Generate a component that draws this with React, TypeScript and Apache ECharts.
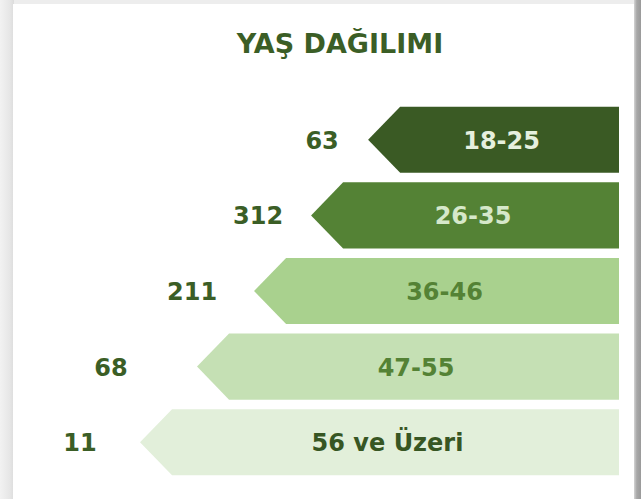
import React, { useEffect, useRef } from "react";
import * as echarts from "echarts";

const title = "YAŞ DAĞILIMI";
const categories = ["18-25", "26-35", "36-46", "47-55", "56 ve Üzeri"];
const counts = [63, 312, 211, 68, 11];
const arrowRank = [1, 2, 3, 4, 5];

const barColors = ["#3a5a24", "#548235", "#a9d18e", "#c5e0b4", "#e2efda"];
const labelColors = ["#e6f0de", "#d6e8ca", "#548235", "#548235", "#375623"];
const valueGaps = [46, 53, 62, 86, 60];
const FONT = "DejaVu Sans";

export default function App() {
  const ref = useRef<HTMLDivElement>(null);
  useEffect(() => {
    if (!ref.current) return;
    const chart = echarts.init(ref.current, null, { renderer: "svg" });
    const xMin = -3.4;
    chart.setOption({
      animation: false,
      backgroundColor: "#ffffff",
      graphic: [
        { type: "rect", left: 0, top: 0, shape: { width: 641, height: 499 }, style: { fill: "#ededed" }, z: -10 },
        {
          type: "rect", left: 0, top: 0, shape: { width: 14, height: 499 },
          style: { fill: new echarts.graphic.LinearGradient(0, 0, 1, 0, [
            { offset: 0, color: "#f2f2f2" }, { offset: 0.7, color: "#e6e6e6" }, { offset: 1, color: "#dcdcdc" }]) },
          z: -9,
        },
        {
          type: "rect", left: 634, top: 0, shape: { width: 7, height: 499 },
          style: { fill: new echarts.graphic.LinearGradient(0, 0, 1, 0, [
            { offset: 0, color: "#d4d4d4" }, { offset: 0.4, color: "#a8a8a8" }, { offset: 1, color: "#9a9a9a" }]) },
          z: -9,
        },
        { type: "rect", left: 13, top: 4, shape: { width: 621, height: 495 }, style: { fill: "#ffffff" }, z: -8 },
        {
          type: "text", x: 340, y: 43,
          style: { text: title, fill: "#3b5e26", fontSize: 27, fontWeight: "bold", fontFamily: FONT, align: "center", verticalAlign: "middle" },
          z: 5,
        },
      ],
      grid: { left: 140, right: 22, top: 102, bottom: 19 },
      xAxis: { type: "value", min: xMin, max: 5, inverse: true, show: false },
      yAxis: { type: "category", data: categories, inverse: true, show: false },
      series: [
        {
          type: "custom",
          encode: { x: 0, y: 1 },
          data: categories.map((c, i) => [arrowRank[i], i, counts[i]]),
          renderItem: (params: any, api: any) => {
            const i = params.dataIndex;
            const rank = api.value(0);
            const idx = api.value(1);
            const [xTip, yc] = api.coord([rank, idx]);
            const [xRight] = api.coord([xMin, idx]);
            const band = api.size([0, 1])[1];
            const h = band * 0.874;
            const half = h / 2;
            const depth = half * 0.97;
            const pts = [
              [xTip, yc],
              [xTip + depth, yc - half],
              [xRight, yc - half],
              [xRight, yc + half],
              [xTip + depth, yc + half],
            ];
            return {
              type: "group",
              children: [
                { type: "polygon", shape: { points: pts }, style: { fill: barColors[i] } },
                {
                  type: "text",
                  x: (xTip + depth / 2 + xRight) / 2,
                  y: yc + 1,
                  style: { text: categories[i], fill: labelColors[i], fontSize: 24, fontWeight: "bold", fontFamily: FONT, align: "center", verticalAlign: "middle" },
                },
                {
                  type: "text",
                  x: xTip - valueGaps[i],
                  y: yc + 1,
                  style: { text: String(api.value(2)), fill: "#3b5e26", fontSize: 24, fontWeight: "bold", fontFamily: FONT, align: "center", verticalAlign: "middle" },
                },
              ],
            };
          },
        },
      ],
    });
    return () => chart.dispose();
  }, []);
  return <div ref={ref} style={{ position: "fixed", left: 0, top: 0, width: 641, height: 499 }} />;
}
